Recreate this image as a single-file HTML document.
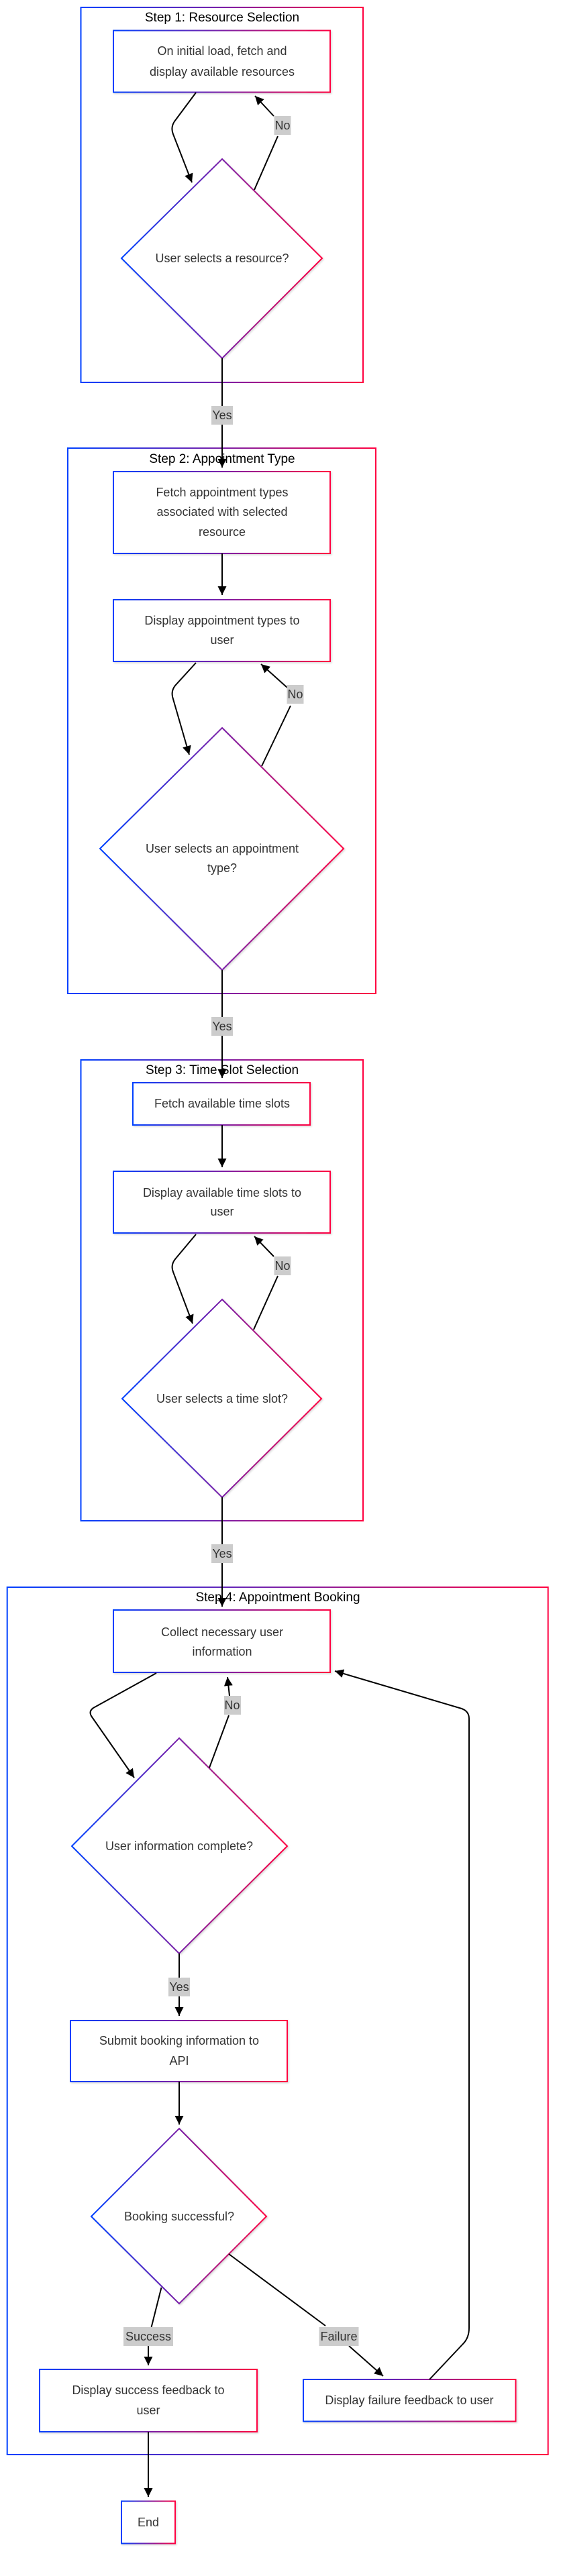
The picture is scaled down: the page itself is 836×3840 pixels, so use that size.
<!DOCTYPE html>
<html><head><meta charset="utf-8"><style>
html,body{margin:0;padding:0;background:#fff;}
svg{display:block;}
text{font-family:"Liberation Sans",Arial,sans-serif;fill:#333;}
.t{font-size:18px;text-anchor:middle;}
.ct{font-size:19px;text-anchor:middle;fill:#000;}
.n{fill:#fff;stroke:url(#g);stroke-width:2;filter:url(#sh);}
.c{fill:none;stroke:url(#g);stroke-width:2;}
.e{fill:none;stroke:#000;stroke-width:2;stroke-linejoin:round;}
.lb{fill:#ccc;}
.lt{font-size:18px;text-anchor:middle;fill:#333;}
</style></head><body>
<svg width="836" height="3840" viewBox="0 0 836 3840" xmlns="http://www.w3.org/2000/svg">
<defs>
<linearGradient id="g" x1="0" y1="0" x2="1" y2="0">
<stop offset="0" stop-color="#0040ff"/><stop offset="0.5" stop-color="#7a1fa8"/><stop offset="1" stop-color="#ff0040"/>
</linearGradient>
<filter id="sh" x="-10%" y="-10%" width="125%" height="125%"><feDropShadow dx="1.5" dy="1.5" stdDeviation="1.2" flood-color="#000" flood-opacity="0.15"/></filter>
<marker id="a" viewBox="0 0 10 10" refX="10" refY="5" markerUnits="userSpaceOnUse" markerWidth="13" markerHeight="13" orient="auto"><path d="M0,0 L10,5 L0,10 z" fill="#000"/></marker>
</defs>

<!-- clusters -->
<rect class="c" x="120.5" y="11" width="420.5" height="559"/>
<text class="ct" x="331" y="32">Step 1: Resource Selection</text>
<rect class="c" x="101" y="668" width="459" height="813"/>
<text class="ct" x="331" y="690">Step 2: Appointment Type</text>
<rect class="c" x="120.5" y="1580" width="420.5" height="687"/>
<text class="ct" x="331" y="1601">Step 3: Time Slot Selection</text>
<rect class="c" x="10.7" y="2366" width="806" height="1293"/>
<text class="ct" x="414" y="2387">Step 4: Appointment Booking</text>

<!-- Step 1 -->
<rect class="n" x="169" y="45.5" width="323" height="92"/>
<text class="t" x="331" y="82">On initial load, fetch and</text>
<text class="t" x="331" y="113">display available resources</text>
<polygon class="n" points="331,237 480,385 331,534 181,385"/>
<text class="t" x="331" y="391">User selects a resource?</text>
<path class="e" d="M292,138 L260,181 Q254,190 258,200 L286,272" marker-end="url(#a)"/>
<path class="e" d="M379,283 L414,203"/>
<path class="e" d="M408,173 L380,143" marker-end="url(#a)"/>
<rect class="lb" x="408.5" y="173" width="25" height="28"/>
<text class="lt" x="421" y="193">No</text>

<!-- 1 -> 2 -->
<path class="e" d="M331,534 L331,697" marker-end="url(#a)"/>
<rect class="lb" x="315" y="605" width="32" height="28"/>
<text class="lt" x="331" y="625">Yes</text>

<!-- Step 2 -->
<rect class="n" x="169" y="703" width="323" height="122"/>
<text class="t" x="331" y="740">Fetch appointment types</text>
<text class="t" x="331" y="769">associated with selected</text>
<text class="t" x="331" y="799">resource</text>
<path class="e" d="M331,825 L331,887" marker-end="url(#a)"/>
<rect class="n" x="169" y="894" width="323" height="92"/>
<text class="t" x="331" y="931">Display appointment types to</text>
<text class="t" x="331" y="960">user</text>
<polygon class="n" points="331,1085 512,1265 331,1446 149,1265"/>
<text class="t" x="331" y="1271">User selects an appointment</text>
<text class="t" x="331" y="1300">type?</text>
<path class="e" d="M292,988 L261,1022 Q254,1031 258,1042 L282,1125" marker-end="url(#a)"/>
<path class="e" d="M390,1142 L433,1052"/>
<path class="e" d="M428,1025 L389,990" marker-end="url(#a)"/>
<rect class="lb" x="427.5" y="1021" width="25" height="28"/>
<text class="lt" x="440" y="1041">No</text>

<!-- 2 -> 3 -->
<path class="e" d="M331,1446 L331,1607" marker-end="url(#a)"/>
<rect class="lb" x="315" y="1516" width="32" height="28"/>
<text class="lt" x="331" y="1536">Yes</text>

<!-- Step 3 -->
<rect class="n" x="198" y="1614" width="264" height="63"/>
<text class="t" x="331" y="1651">Fetch available time slots</text>
<path class="e" d="M331,1677 L331,1740" marker-end="url(#a)"/>
<rect class="n" x="169" y="1746" width="323" height="92"/>
<text class="t" x="331" y="1784">Display available time slots to</text>
<text class="t" x="331" y="1812">user</text>
<polygon class="n" points="331,1937 479,2085 331,2232 182,2085"/>
<text class="t" x="331" y="2091">User selects a time slot?</text>
<path class="e" d="M292,1840 L261,1877 Q254,1886 258,1896 L287,1973" marker-end="url(#a)"/>
<path class="e" d="M378,1982 L414,1902"/>
<path class="e" d="M408,1873 L379,1843" marker-end="url(#a)"/>
<rect class="lb" x="408.5" y="1873" width="25" height="28"/>
<text class="lt" x="421" y="1893">No</text>

<!-- 3 -> 4 -->
<path class="e" d="M331,2232 L331,2395" marker-end="url(#a)"/>
<rect class="lb" x="315" y="2302" width="32" height="28"/>
<text class="lt" x="331" y="2322">Yes</text>

<!-- Step 4 -->
<rect class="n" x="169" y="2400" width="323" height="93"/>
<text class="t" x="331" y="2439">Collect necessary user</text>
<text class="t" x="331" y="2468">information</text>
<polygon class="n" points="267,2591 428,2752 267,2912 107,2752"/>
<text class="t" x="267" y="2758">User information complete?</text>
<path class="e" d="M233,2494 L139,2546 Q132,2551 136,2558 L200,2650" marker-end="url(#a)"/>
<path class="e" d="M312,2635 L341,2557"/>
<path class="e" d="M342,2528 L339,2500" marker-end="url(#a)"/>
<rect class="lb" x="334" y="2528" width="25" height="28"/>
<text class="lt" x="346" y="2548">No</text>
<path class="e" d="M267,2912 L267,3005" marker-end="url(#a)"/>
<rect class="lb" x="251" y="2948" width="32" height="28"/>
<text class="lt" x="267" y="2968">Yes</text>

<rect class="n" x="105" y="3012" width="323" height="91"/>
<text class="t" x="267" y="3048">Submit booking information to</text>
<text class="t" x="267" y="3078">API</text>
<path class="e" d="M267,3103 L267,3167" marker-end="url(#a)"/>
<polygon class="n" points="267,3173 397,3304 267,3434 136,3304"/>
<text class="t" x="267" y="3310">Booking successful?</text>

<path class="e" d="M240.5,3410 L225.6,3469"/>
<path class="e" d="M221,3490 L221,3526" marker-end="url(#a)"/>
<rect class="lb" x="184" y="3469" width="74" height="28"/>
<text class="lt" x="221" y="3489">Success</text>

<path class="e" d="M341,3360 L485,3467"/>
<path class="e" d="M520,3497 L571,3542" marker-end="url(#a)"/>
<rect class="lb" x="475.5" y="3469" width="59" height="28"/>
<text class="lt" x="505" y="3489">Failure</text>

<rect class="n" x="59" y="3532" width="324" height="93"/>
<text class="t" x="221" y="3569">Display success feedback to</text>
<text class="t" x="221" y="3599">user</text>
<rect class="n" x="452" y="3547" width="316.5" height="62.5"/>
<text class="t" x="610" y="3584">Display failure feedback to user</text>

<path class="e" d="M640,3547 L690,3494 Q699,3485 699,3470 L699,2562 Q699,2551 688,2547 L499,2491" marker-end="url(#a)"/>

<path class="e" d="M221,3625 L221,3722" marker-end="url(#a)"/>
<rect class="n" x="181" y="3728.5" width="80" height="63"/>
<text class="t" x="221" y="3766">End</text>
</svg>
</body></html>
